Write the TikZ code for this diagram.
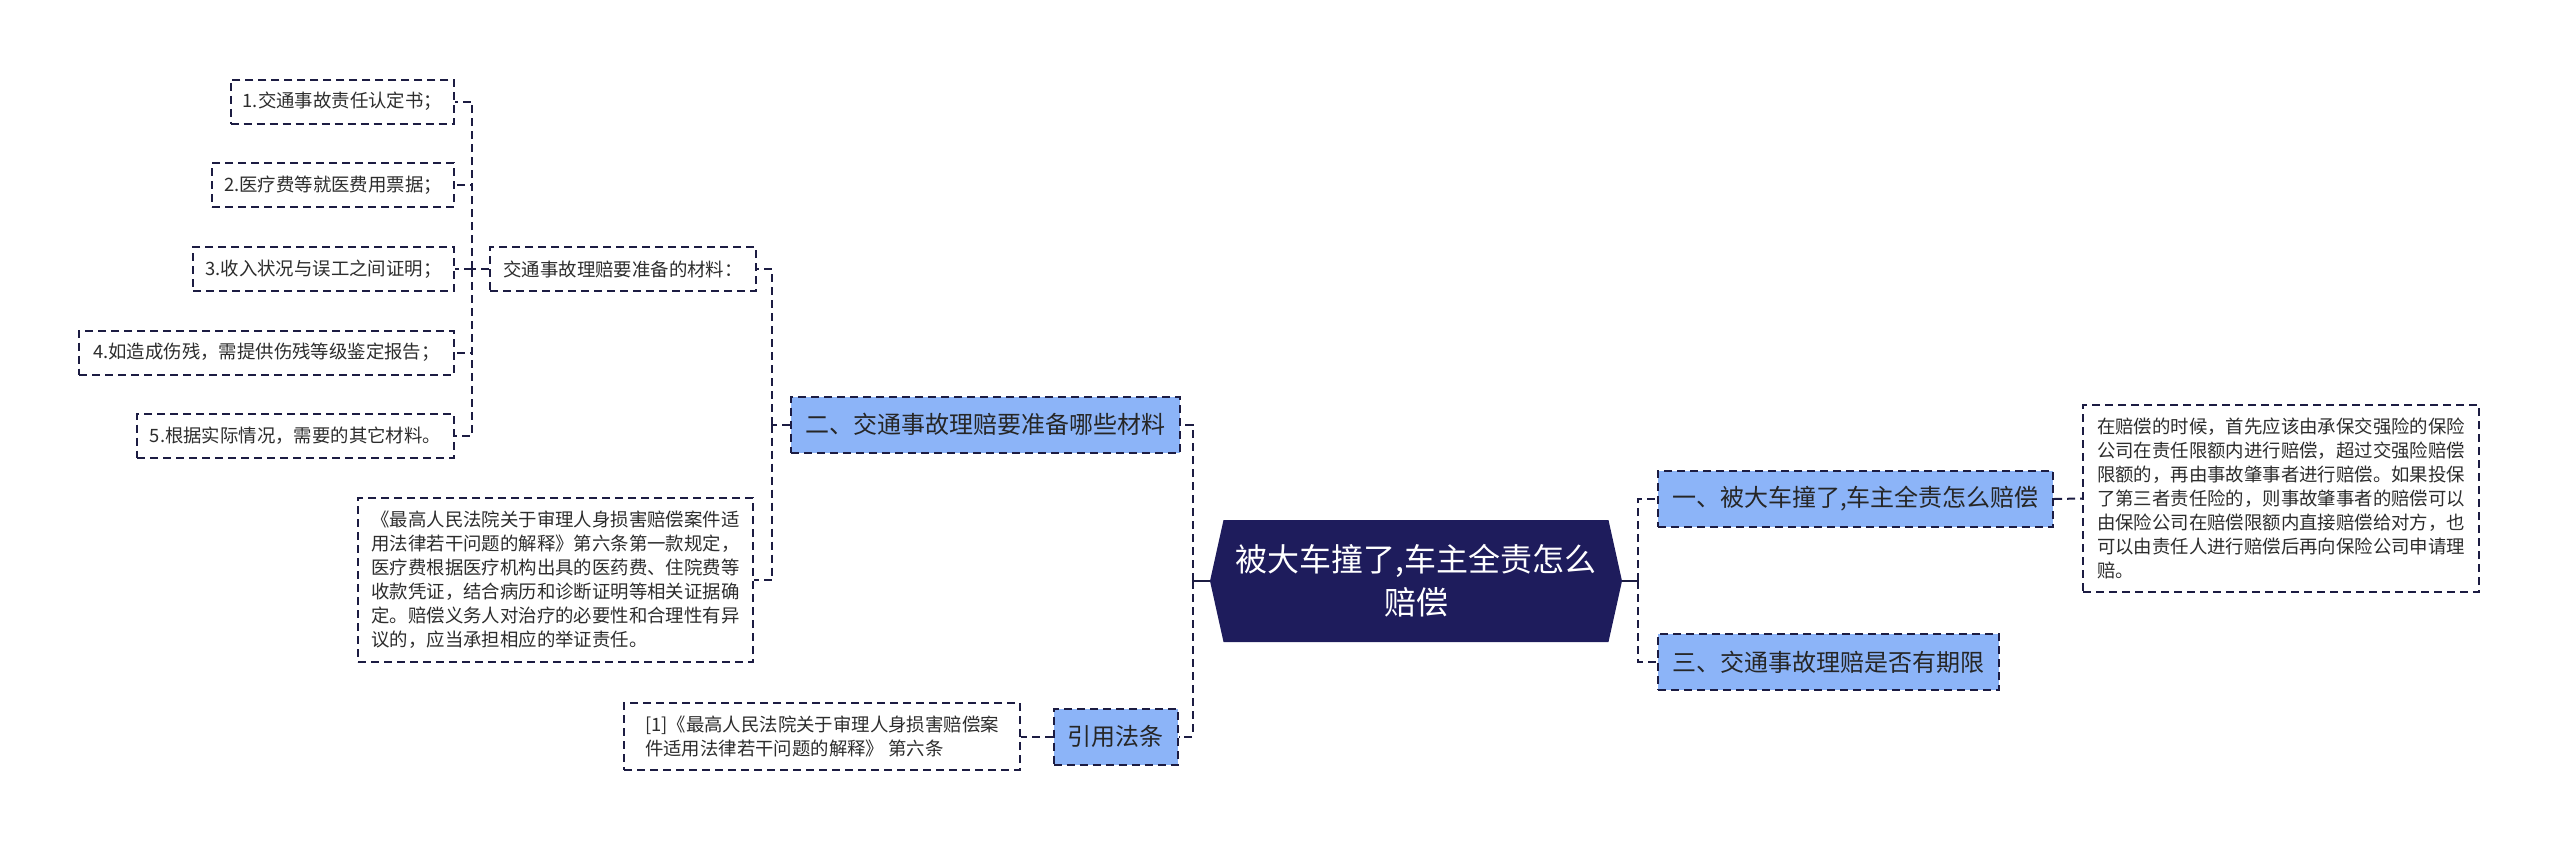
\documentclass[tikz,border=0pt]{standalone}
\usepackage{fontspec}
\setmainfont{Noto Sans CJK SC}
\usetikzlibrary{shapes.symbols}
\definecolor{navy}{RGB}{30,28,92}
\definecolor{linec}{RGB}{28,28,66}
\definecolor{bluebox}{RGB}{140,180,248}
\definecolor{txt}{RGB}{45,45,45}
\begin{document}
\begin{tikzpicture}[x=0.5pt,y=-0.5pt,
                    link/.style={draw=linec,line width=1pt,dash pattern=on 4pt off 2.5pt},
                    stem/.style={draw=linec,line width=1.3pt},
                    leaf/.style={draw=linec,line width=1pt,dash pattern=on 4pt off 2.5pt,fill=white,text=txt,
                                 font=\fontsize{9.2}{12}\selectfont,align=left,inner xsep=6pt,minimum height=22pt},
                    topic/.style={draw=linec,line width=1pt,dash pattern=on 4pt off 2.5pt,fill=bluebox,text=black!85,
                                  font=\fontsize{12}{14}\selectfont,inner xsep=7pt,minimum height=28pt},
                    rootbox/.style={signal,signal to=west and east,signal pointer angle=155,fill=navy,text=white,
                                    font=\fontsize{16}{21.5}\selectfont,align=center,minimum width=206pt,minimum height=61pt}]
                    \useasboundingbox (0,0) rectangle (2560,851);

                    \node[rootbox] (root) at (1416,581) {被大车撞了,车主全责怎么\\赔偿};

                    \node[topic,minimum width=194.5pt] (er) at (985.5,424.5) {二、交通事故理赔要准备哪些材料};
                    \node[topic,minimum width=60.5pt] (yin) at (1115.5,736.5) {引用法条};
                    \node[topic,minimum width=197.5pt] (yi) at (1855.5,499) {一、被大车撞了,车主全责怎么赔偿};
                    \node[topic,minimum width=170.5pt] (san) at (1828.5,662) {三、交通事故理赔是否有期限};

                    \node[leaf,minimum width=198pt,minimum height=93.5pt] (detail) at (2281,498.5)
                        {在赔偿的时候，首先应该由承保交强险的保险\\公司在责任限额内进行赔偿，超过交强险赔偿\\限额的，再由事故肇事者进行赔偿。如果投保\\了第三者责任险的，则事故肇事者的赔偿可以\\由保险公司在赔偿限额内直接赔偿给对方，也\\可以由责任人进行赔偿后再向保险公司申请理\\赔。};
                    \node[leaf,minimum width=133pt] (cl) at (623,269) {交通事故理赔要准备的材料：};
                    \node[leaf,minimum width=197.5pt,minimum height=82pt] (law) at (555.5,580)
                        {《最高人民法院关于审理人身损害赔偿案件适\\用法律若干问题的解释》第六条第一款规定，\\医疗费根据医疗机构出具的医药费、住院费等\\收款凭证，结合病历和诊断证明等相关证据确\\定。赔偿义务人对治疗的必要性和合理性有异\\议的，应当承担相应的举证责任。};
                    \node[leaf,minimum width=198pt,minimum height=33.5pt] (ref) at (822,736.5)
                        {[1]《最高人民法院关于审理人身损害赔偿案\\件适用法律若干问题的解释》 第六条};

                    \node[leaf,anchor=east,minimum width=111.5pt] (m1) at (455,101.5) {1.交通事故责任认定书；};
                    \node[leaf,anchor=east,minimum width=121pt] (m2) at (455,185) {2.医疗费等就医费用票据；};
                    \node[leaf,anchor=east,minimum width=130.5pt] (m3) at (455,269) {3.收入状况与误工之间证明；};
                    \node[leaf,anchor=east,minimum width=187.5pt] (m4) at (455,352.5) {4.如造成伤残，需提供伤残等级鉴定报告；};
                    \node[leaf,anchor=east,minimum width=158.5pt] (m5) at (455,435.5) {5.根据实际情况，需要的其它材料。};

                    % left side of the root
                    \draw[stem] (root.west) -- ++(-17,0) coordinate (jl);
                    \draw[link] (jl) |- (er.east);
                    \draw[link] (jl) |- (yin.east);
                    \draw[link] (yin.west) -- (ref.east);
                    \draw[link] (er.west) -- ++(-18,0) coordinate (je);
                    \draw[link] (je) |- (cl.east);
                    \draw[link] (je) |- (law.east);
                    \draw[link] (cl.west) -- ++(-17,0) coordinate (jc);
                    \draw[link] (jc) |- (m1.east);
                    \draw[link] (jc) |- (m2.east);
                    \draw[link] (jc) |- (m3.east);
                    \draw[link] (jc) |- (m4.east);
                    \draw[link] (jc) |- (m5.east);

                    % right side of the root
                    \draw[stem] (root.east) -- ++(16,0) coordinate (jr);
                    \draw[link] (jr) |- (yi.west);
                    \draw[link] (jr) |- (san.west);
                    \draw[link] (yi.east) -- (detail.west);

                \end{tikzpicture}
\end{document}
